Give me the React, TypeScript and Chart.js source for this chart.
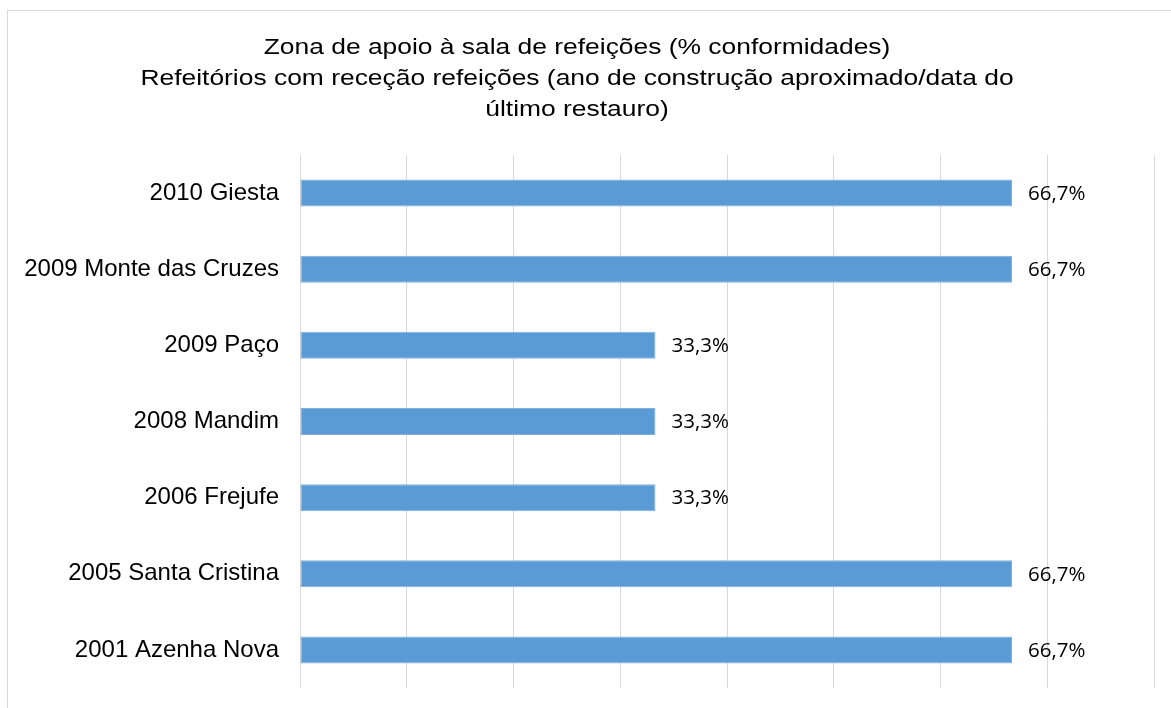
import React, { useEffect, useRef } from "react";
import { Chart, registerables } from "chart.js";

Chart.register(...registerables);

const titleLines = [
  "Zona de apoio à sala de refeições (% conformidades)",
  "Refeitórios com receção refeições (ano de construção aproximado/data do",
  "último restauro)",
];
const categories = [
  "2010 Giesta",
  "2009 Monte das Cruzes",
  "2009 Paço",
  "2008 Mandim",
  "2006 Frejufe",
  "2005 Santa Cristina",
  "2001 Azenha Nova",
];
const conformidades = [66.7, 66.7, 33.3, 33.3, 33.3, 66.7, 66.7];
const axisMin = 0;
const axisMax = 80;
const axisStep = 10;

const fmt = (v: number) => v.toFixed(1).replace(".", ",") + "%";

const dataLabelPlugin = {
  id: "dataLabels",
  afterDatasetsDraw(chart: any) {
    const ctx = chart.ctx;
    const meta = chart.getDatasetMeta(0);
    ctx.save();
    ctx.font = '20.5px "Open Sans"';
    ctx.fillStyle = "#000000";
    ctx.textAlign = "left";
    ctx.textBaseline = "middle";
    meta.data.forEach((bar: any, i: number) => {
      const v = chart.data.datasets[0].data[i] as number;
      ctx.fillText(fmt(v), bar.x + 16, bar.y + 1);
    });
    ctx.restore();
  },
};

// Draws the title text (slightly widened, as in the reference) inside the
// box that Chart.js' own title plugin reserves.
const wideTitlePlugin = {
  id: "wideTitle",
  afterDraw(chart: any) {
    const tb = chart.titleBlock;
    if (!tb) return;
    const ctx = chart.ctx;
    const lh = 31;
    const cx = (tb.left + tb.right) / 2;
    const top = tb.top + 32;
    ctx.save();
    ctx.font = '22px "Liberation Sans", Arial, sans-serif';
    ctx.fillStyle = "#000000";
    ctx.textAlign = "center";
    ctx.textBaseline = "middle";
    titleLines.forEach((line, i) => {
      ctx.save();
      ctx.translate(cx, top + lh * i + lh / 2);
      ctx.scale(1.2, 1);
      ctx.fillText(line, 0, 0);
      ctx.restore();
    });
    ctx.restore();
  },
};

export default function App() {
  const canvasRef = useRef<HTMLCanvasElement | null>(null);

  useEffect(() => {
    if (!canvasRef.current) return;
    const chart = new Chart(canvasRef.current, {
      type: "bar",
      data: {
        labels: categories,
        datasets: [
          {
            data: conformidades,
            backgroundColor: "#5b9bd5",
            borderColor: "#7fb0de",
            borderWidth: 1,
            borderSkipped: false,
            categoryPercentage: 1,
            barPercentage: 0.355,
          },
        ],
      },
      options: {
        indexAxis: "y",
        animation: false,
        responsive: false,
        maintainAspectRatio: false,
        devicePixelRatio: 1,
        layout: { autoPadding: false, padding: { left: 0, right: 34, top: 0, bottom: 20 } },
        plugins: {
          legend: { display: false },
          tooltip: { enabled: false },
          title: {
            display: true,
            text: titleLines,
            color: "rgba(0,0,0,0)",
            font: { family: '"Liberation Sans", Arial, sans-serif', size: 22, weight: "normal", lineHeight: 31 / 22 },
            padding: { top: 32, bottom: 30 },
          },
        },
        scales: {
          x: {
            min: axisMin,
            max: axisMax,
            ticks: { display: false, stepSize: axisStep },
            grid: { color: "#d9d9d9", lineWidth: 1, drawTicks: false },
            border: { display: false },
            afterFit: (scale: any) => {
              scale.height = 0;
              scale.paddingLeft = 0;
              scale.paddingRight = 0;
            },
          },
          y: {
            ticks: {
              color: "#000000",
              font: { family: '"Liberation Sans", Arial, sans-serif', size: 24 },
              padding: 21,
            },
            grid: { display: false, drawTicks: false },
            border: { display: false },
            afterFit: (scale: any) => {
              scale.width = 300;
              scale.paddingTop = 0;
              scale.paddingBottom = 0;
            },
          },
        },
      },
      plugins: [dataLabelPlugin, wideTitlePlugin],
    });
    return () => chart.destroy();
  }, []);

  return (
    <div
      style={{
        position: "fixed",
        left: 0,
        top: 0,
        width: 1171,
        height: 708,
        overflow: "hidden",
        background: "#ffffff",
      }}
    >
      <div
        style={{
          position: "absolute",
          left: 7,
          top: 10,
          width: 1174,
          height: 740,
          border: "1px solid #d9d9d9",
          boxSizing: "border-box",
        }}
      />
      <canvas
        ref={canvasRef}
        width={1188}
        height={708}
        style={{ position: "absolute", left: 0, top: 0, width: 1188, height: 708 }}
      />
    </div>
  );
}
